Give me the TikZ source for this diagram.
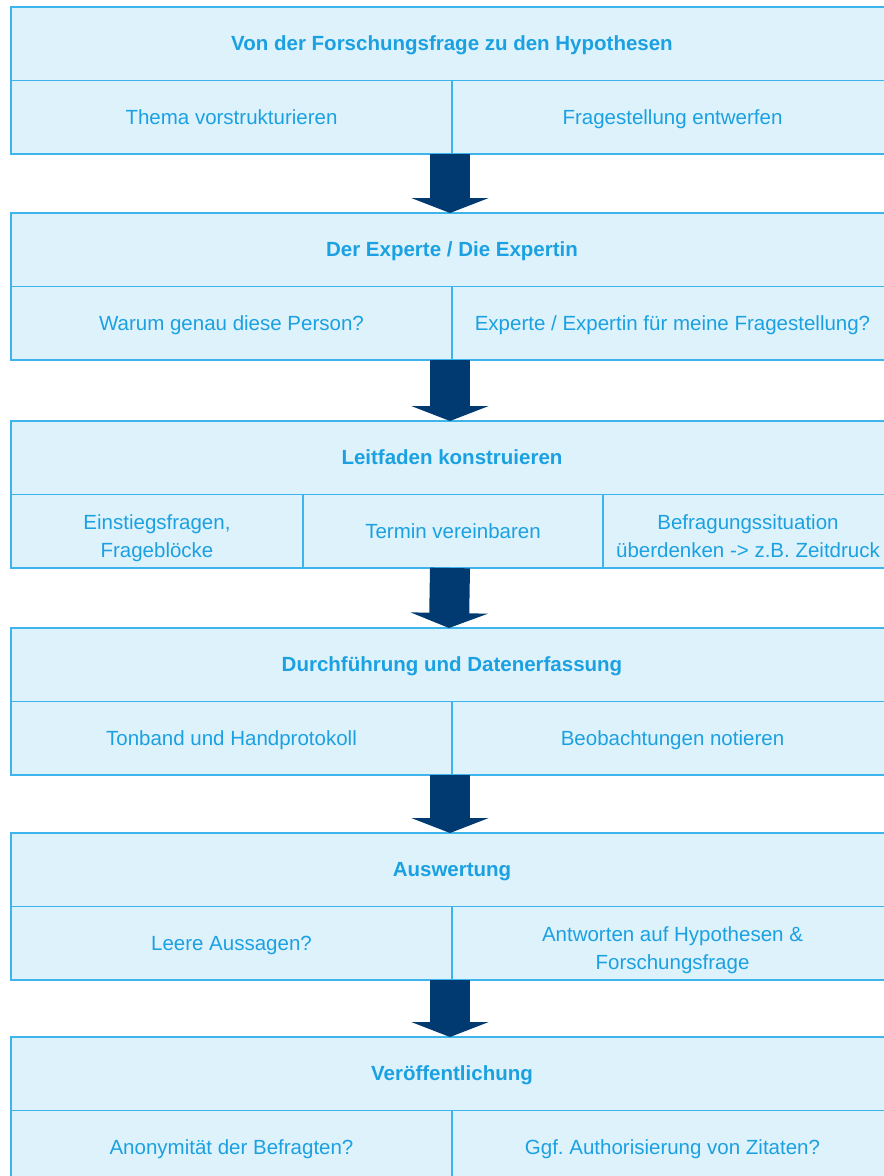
\documentclass[tikz,border=0pt]{standalone}
\usepackage{fontspec}
\setmainfont{Liberation Sans}
\usetikzlibrary{arrows.meta}
\definecolor{cellfill}{HTML}{DEF2FB}
\definecolor{lineblue}{HTML}{3DB5EC}
\definecolor{textblue}{HTML}{1BA1E2}
\definecolor{navy}{HTML}{003A70}
\frenchspacing
% fixed line boxes so every label sits at the same height in its cell
\newcommand{\headstrut}{\rule[-6.5pt]{0pt}{25.5pt}}
\newcommand{\cellstrut}{\rule[-6.5pt]{0pt}{28pt}}
\newcommand{\firststrut}{\rule{0pt}{30.5pt}}
\newcommand{\laststrut}{\rule[-6.5pt]{0pt}{6.5pt}}
\tikzset{
  cell/.style={draw=lineblue, fill=cellfill, line width=1.5pt, text=textblue,
    font=\fontsize{20.5}{27.5}\selectfont, align=center, inner sep=0pt,
    outer sep=0pt, anchor=north west, minimum height=73.5pt},
  head/.style={cell, font=\bfseries\fontsize{20.5}{27.5}\selectfont, minimum width=882pt},
  half/.style={cell, minimum width=441pt},
  flowarrow/.style={navy, line width=40pt, line cap=butt,
    -{Triangle[width=77pt,length=15pt]}}
}
\begin{document}
\begin{tikzpicture}[x=1pt,y=-1pt]
  \useasboundingbox (0,0) rectangle (884,1176);
  \clip (0,0) rectangle (884,1176);
  % block 1
  \node[head] (h1) at (11,7) {\headstrut Von der Forschungsfrage zu den Hypothesen};
  \node[half] (a1) at (11,80.5) {\cellstrut Thema vorstrukturieren};
  \node[half] (b1) at (452,80.5) {\cellstrut Fragestellung entwerfen};
  % block 2
  \node[head] (h2) at (11,213) {\headstrut Der Experte / Die Expertin};
  \node[half] (a2) at (11,286.5) {\cellstrut Warum genau diese Person?};
  \node[half] (b2) at (452,286.5) {\cellstrut Experte / Expertin für meine Fragestellung?};
  % block 3
  \node[head] (h3) at (11,421) {\headstrut Leitfaden konstruieren};
  \node[cell, minimum width=292pt] (a3) at (11,494.5) {\firststrut Einstiegsfragen,\\Frageblöcke\laststrut};
  \node[cell, minimum width=300pt] (b3) at (303,494.5) {\cellstrut Termin vereinbaren};
  \node[cell, minimum width=290pt] (c3) at (603,494.5) {\firststrut Befragungssituation\\überdenken -> z.B. Zeitdruck\laststrut};
  % block 4
  \node[head] (h4) at (11,628) {\headstrut Durchführung und Datenerfassung};
  \node[half] (a4) at (11,701.5) {\cellstrut Tonband und Handprotokoll};
  \node[half] (b4) at (452,701.5) {\cellstrut Beobachtungen notieren};
  % block 5
  \node[head] (h5) at (11,833) {\headstrut Auswertung};
  \node[half] (a5) at (11,906.5) {\cellstrut Leere Aussagen?};
  \node[half] (b5) at (452,906.5) {\firststrut Antworten auf Hypothesen \&\\Forschungsfrage\laststrut};
  % block 6
  \node[head] (h6) at (11,1037) {\headstrut Veröffentlichung};
  \node[half] (a6) at (11,1110.5) {\cellstrut Anonymität der Befragten?};
  \node[half] (b6) at (452,1110.5) {\cellstrut Ggf. Authorisierung von Zitaten?};
  % arrows between blocks
  \draw[flowarrow] ([xshift=-2pt]a1.south east) -- ([xshift=-2pt]h2.north);
  \draw[flowarrow] ([xshift=-2pt]a2.south east) -- ([xshift=-2pt]h3.north);
  \draw[flowarrow] ([xshift=-3pt]b3.south) -- ([xshift=-3pt]h4.north);
  \draw[flowarrow] ([xshift=-2pt]a4.south east) -- ([xshift=-2pt]h5.north);
  \draw[flowarrow] ([xshift=-2pt]a5.south east) -- ([xshift=-2pt]h6.north);
\end{tikzpicture}
\end{document}
